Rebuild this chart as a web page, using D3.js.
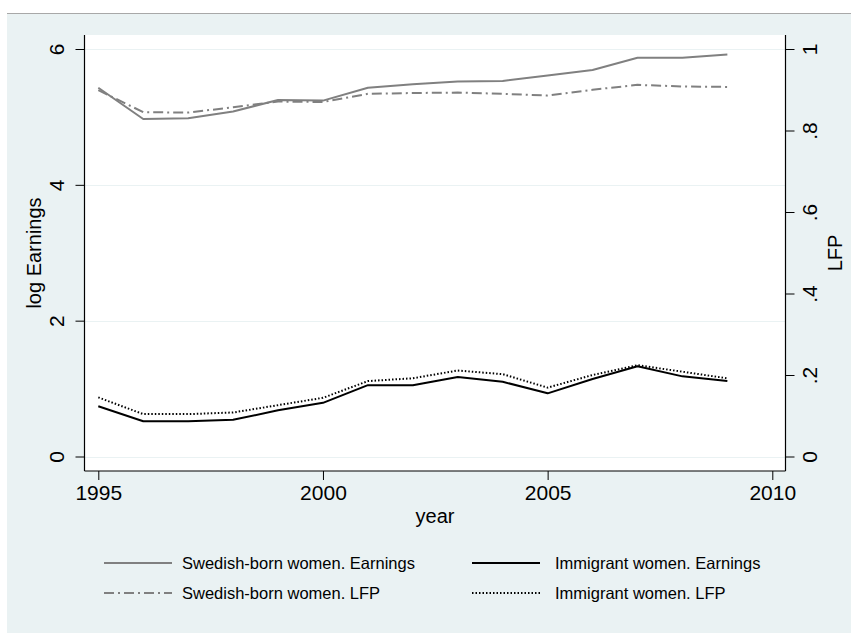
<!DOCTYPE html>
<html>
<head>
<meta charset="utf-8">
<script src="https://cdn.jsdelivr.net/npm/d3@7"></script>
<style>
  body { margin: 0; background: #fff; }
  svg text { font-family: "Liberation Sans", Arial, sans-serif; fill: #000; }
</style>
</head>
<body>
<div id="vis"></div>
<script>
// Data
var years = [1995, 1996, 1997, 1998, 1999, 2000, 2001, 2002, 2003, 2004, 2005, 2006, 2007, 2008, 2009];
var swedishEarnings = [5.43, 4.97, 4.98, 5.08, 5.25, 5.24, 5.43, 5.48, 5.52, 5.53, 5.61, 5.69, 5.87, 5.87, 5.92];
var swedishLFP = [0.899, 0.845, 0.844, 0.857, 0.871, 0.870, 0.890, 0.892, 0.893, 0.890, 0.886, 0.900, 0.912, 0.908, 0.907];
var immigrantEarnings = [0.74, 0.52, 0.52, 0.54, 0.68, 0.79, 1.05, 1.05, 1.17, 1.10, 0.93, 1.14, 1.33, 1.18, 1.11];
var immigrantLFP = [0.145, 0.104, 0.104, 0.108, 0.126, 0.144, 0.185, 0.192, 0.211, 0.202, 0.169, 0.200, 0.224, 0.208, 0.192];

var xTicks = [1995, 2000, 2005, 2010];
var leftTicks = [0, 2, 4, 6];
var rightTicks = [0, 0.2, 0.4, 0.6, 0.8, 1];
var rightTickLabels = ['0', '.2', '.4', '.6', '.8', '1'];

var legendLabels = ['Swedish-born women. Earnings', 'Immigrant women. Earnings',
                    'Swedish-born women. LFP', 'Immigrant women. LFP'];

// Page and plot region
var width = 851, height = 633;
var box = { left: 84.5, right: 785.5, top: 35, bottom: 471 };
var bg = '#eaf2f3';
var grey = '#808080';

var svg = d3.select('#vis').append('svg')
    .attr('width', width)
    .attr('height', height);

// outer background with thin top border
svg.append('rect')
    .attr('x', 7).attr('y', 13)
    .attr('width', width - 7).attr('height', height - 13)
    .attr('fill', bg);
svg.append('line')
    .attr('x1', 7).attr('x2', width)
    .attr('y1', 13.5).attr('y2', 13.5)
    .attr('stroke', '#a8a8a8').attr('stroke-width', 1);

// plot region
svg.append('rect')
    .attr('x', box.left).attr('y', box.top)
    .attr('width', box.right - box.left).attr('height', box.bottom - box.top)
    .attr('fill', '#fff');

// Scales
var x = d3.scaleLinear().domain([1995, 2010]).range([98.3, 772.3]);
var yLeft = d3.scaleLinear().domain([0, 6]).range([456.5, 49]);
var yRight = d3.scaleLinear().domain([0, 1]).range([456.5, 49]);

// gridlines at left ticks
svg.append('g').selectAll('line')
    .data(leftTicks)
    .enter().append('line')
    .attr('x1', box.left).attr('x2', box.right)
    .attr('y1', d => Math.round(yLeft(d)) + 0.5)
    .attr('y2', d => Math.round(yLeft(d)) + 0.5)
    .attr('stroke', bg).attr('stroke-width', 1.2);

// Lines
var lineLeft = d3.line().x((d, i) => x(years[i])).y(d => yLeft(d));
var lineRight = d3.line().x((d, i) => x(years[i])).y(d => yRight(d));

var series = [
    { values: swedishEarnings, gen: lineLeft, color: grey, w: 2, dash: null },
    { values: swedishLFP, gen: lineRight, color: grey, w: 2, dash: '10,4,2,4' },
    { values: immigrantEarnings, gen: lineLeft, color: '#000', w: 2, dash: null },
    { values: immigrantLFP, gen: lineRight, color: '#000', w: 2, dash: '1.5,2' }
];

svg.append('g').selectAll('path')
    .data(series)
    .enter().append('path')
    .attr('d', d => d.gen(d.values))
    .attr('fill', 'none')
    .attr('stroke', d => d.color)
    .attr('stroke-width', d => d.w)
    .attr('stroke-dasharray', d => d.dash)
    .attr('stroke-linejoin', 'round');

// Axes
var fontSize = 21;

var xAxis = svg.append('g')
    .attr('transform', `translate(0,${box.bottom})`)
    .call(d3.axisBottom(x).tickValues(xTicks).tickFormat(d3.format('d')).tickSize(9).tickSizeOuter(0));
xAxis.select('.domain').remove();
xAxis.selectAll('text')
    .attr('y', 14).attr('dy', '0.71em')
    .style('font-size', fontSize + 'px');

var leftAxis = svg.append('g')
    .attr('transform', `translate(${box.left},0)`)
    .call(d3.axisLeft(yLeft).tickValues(leftTicks).tickFormat(d3.format('d')).tickSize(9).tickSizeOuter(0));
leftAxis.select('.domain').remove();
leftAxis.selectAll('text')
    .attr('x', 0).attr('dy', 0)
    .attr('text-anchor', 'middle')
    .attr('transform', 'translate(-21,0) rotate(-90)')
    .style('font-size', fontSize + 'px');

var rightAxis = svg.append('g')
    .attr('transform', `translate(${box.right},0)`)
    .call(d3.axisRight(yRight).tickValues(rightTicks).tickFormat((d, i) => rightTickLabels[i]).tickSize(9).tickSizeOuter(0));
rightAxis.select('.domain').remove();
rightAxis.selectAll('text')
    .attr('x', 0).attr('dy', 0)
    .attr('text-anchor', 'middle')
    .attr('transform', 'translate(31,0) rotate(-90)')
    .style('font-size', fontSize + 'px');

svg.selectAll('.tick line').attr('stroke', '#000');

// axis lines
var frame = svg.append('g').attr('stroke', '#000').attr('stroke-width', 1.2);
frame.append('line').attr('x1', box.left).attr('x2', box.left).attr('y1', box.top).attr('y2', box.bottom);
frame.append('line').attr('x1', box.right).attr('x2', box.right).attr('y1', box.top).attr('y2', box.bottom);
frame.append('line').attr('x1', box.left).attr('x2', box.right).attr('y1', box.bottom).attr('y2', box.bottom);

// axis titles
svg.append('text')
    .attr('x', (box.left + box.right) / 2).attr('y', 523)
    .attr('text-anchor', 'middle')
    .style('font-size', '20px')
    .text('year');

svg.append('text')
    .attr('transform', `translate(41,${(box.top + box.bottom) / 2}) rotate(-90)`)
    .attr('text-anchor', 'middle')
    .style('font-size', '20px')
    .text('log Earnings');

svg.append('text')
    .attr('transform', `translate(842,${(box.top + box.bottom) / 2}) rotate(-90)`)
    .attr('text-anchor', 'middle')
    .style('font-size', '20px')
    .text('LFP');

// Legend: two columns, two rows
var legendKeyX = [[104, 172], [472, 540]];
var legendTextX = [182, 555];
var legendRows = [563, 593];
var legend = svg.append('g');
series.forEach(function(s, i) {
    var col = i < 2 ? 0 : 1;
    var cy = legendRows[i % 2];
    legend.append('line')
        .attr('x1', legendKeyX[col][0]).attr('x2', legendKeyX[col][1])
        .attr('y1', cy).attr('y2', cy)
        .attr('stroke', s.color)
        .attr('stroke-width', s.w)
        .attr('stroke-dasharray', s.dash);
});
var legendOrder = [0, 2, 1, 3];
legendLabels.forEach(function(label, k) {
    var i = legendOrder[k];
    legend.append('text')
        .attr('x', legendTextX[i < 2 ? 0 : 1])
        .attr('y', legendRows[i % 2])
        .attr('dy', '0.35em')
        .style('font-size', '16.5px')
        .text(label);
});
</script>
</body>
</html>
